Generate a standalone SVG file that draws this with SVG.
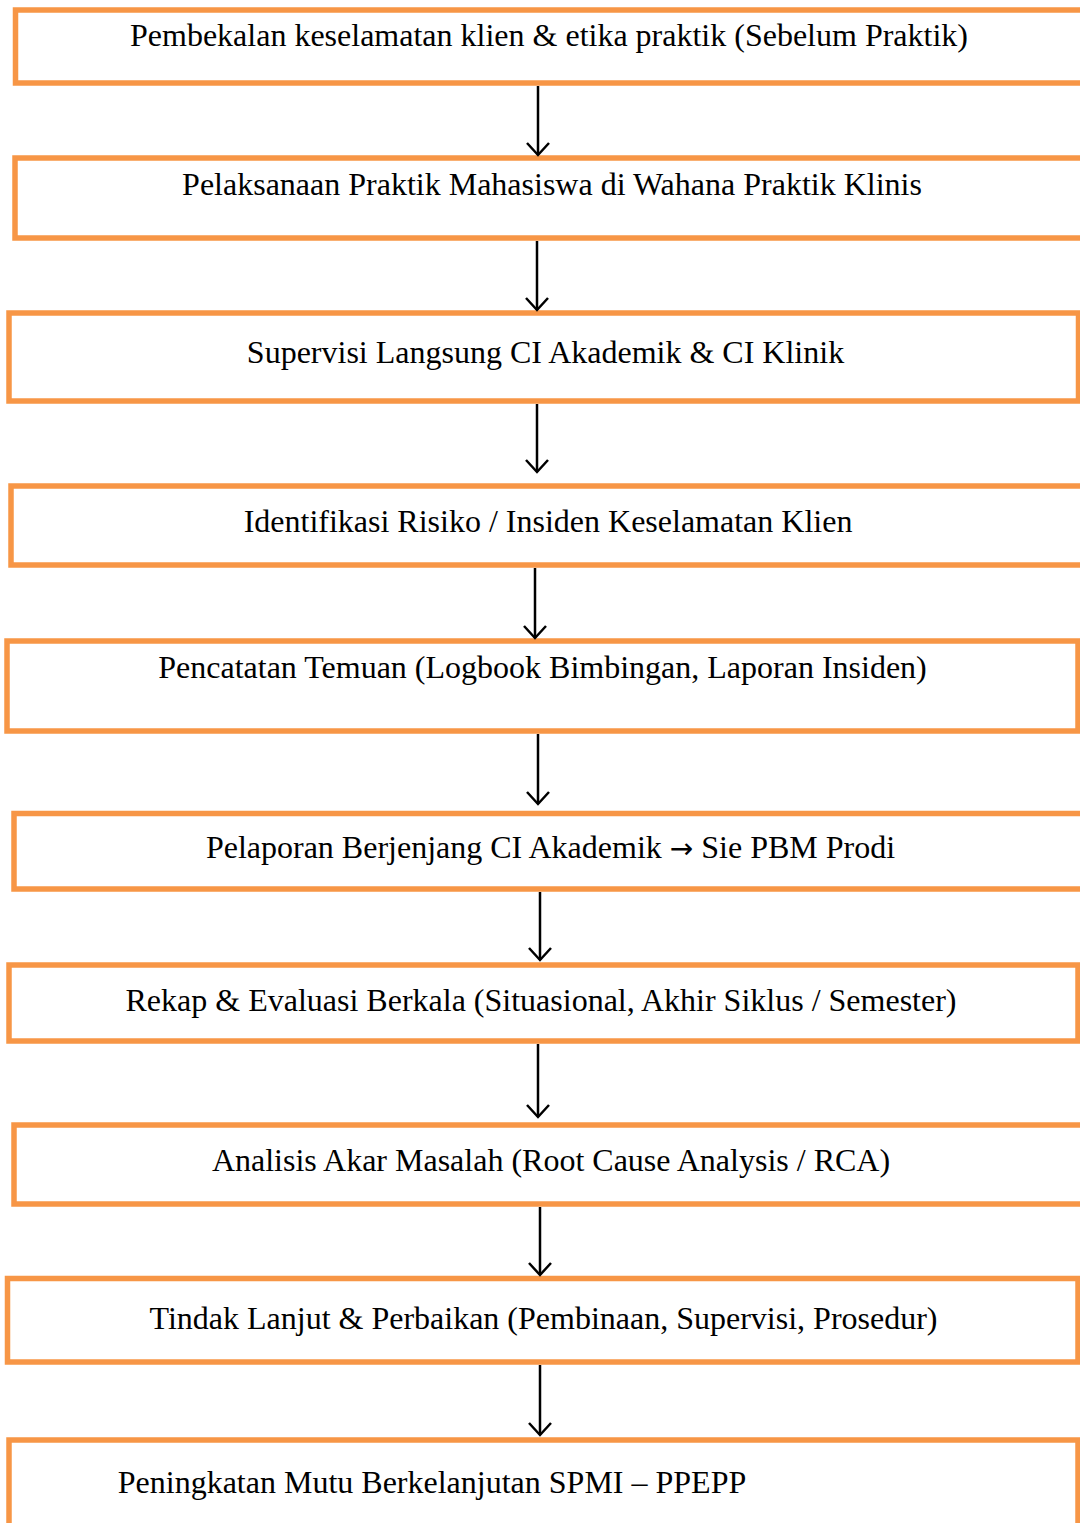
<svg xmlns="http://www.w3.org/2000/svg" width="1080" height="1523" viewBox="0 0 1080 1523">
<defs>
<style>
.box{fill:#fff;stroke:#F79646;stroke-width:5.5}
.t{font-family:"Liberation Serif","Times New Roman",serif;font-size:32px;fill:#000;text-anchor:middle}
.ar{font-family:"DejaVu Sans",sans-serif;font-size:28px}
.c line{stroke:#000;stroke-width:2.5}
.c path{fill:none;stroke:#000;stroke-width:2.5}
</style>
</defs>
<rect width="1080" height="1523" fill="#fff"/>
<g id="n1"><rect class="box" x="15.5" y="10" width="1100" height="73"/><text class="t" x="549" y="46">Pembekalan keselamatan klien &amp; etika praktik (Sebelum Praktik)</text></g>
<g id="n2"><rect class="box" x="15" y="158" width="1100" height="80"/><text class="t" x="552" y="195">Pelaksanaan Praktik Mahasiswa di Wahana Praktik Klinis</text></g>
<g id="n3"><rect class="box" x="9" y="313" width="1069.5" height="88"/><text class="t" x="545.5" y="363">Supervisi Langsung CI Akademik &amp; CI Klinik</text></g>
<g id="n4"><rect class="box" x="11" y="486" width="1100" height="79"/><text class="t" x="548" y="532">Identifikasi Risiko / Insiden Keselamatan Klien</text></g>
<g id="n5"><rect class="box" x="7" y="641" width="1071" height="90"/><text class="t" x="542.5" y="678">Pencatatan Temuan (Logbook Bimbingan, Laporan Insiden)</text></g>
<g id="n6"><rect class="box" x="14" y="813.5" width="1100" height="75.5"/><text class="t" x="550.5" y="858">Pelaporan Berjenjang CI Akademik <tspan class="ar">→</tspan> Sie PBM Prodi</text></g>
<g id="n7"><rect class="box" x="9" y="965" width="1069" height="76"/><text class="t" x="541" y="1011">Rekap &amp; Evaluasi Berkala (Situasional, Akhir Siklus / Semester)</text></g>
<g id="n8"><rect class="box" x="14" y="1125" width="1100" height="79"/><text class="t" x="551" y="1171">Analisis Akar Masalah (Root Cause Analysis / RCA)</text></g>
<g id="n9"><rect class="box" x="7.5" y="1278.5" width="1070.5" height="83.5"/><text class="t" x="543.5" y="1329">Tindak Lanjut &amp; Perbaikan (Pembinaan, Supervisi, Prosedur)</text></g>
<g id="n10"><rect class="box" x="9" y="1440" width="1069" height="120"/><text class="t" x="432" y="1493">Peningkatan Mutu Berkelanjutan SPMI – PPEPP</text></g>
<g class="c" id="connectors">
<line x1="538" y1="86" x2="538" y2="155"/><path d="M527 143 L538 155 L549 143"/>
<line x1="537" y1="241" x2="537" y2="310"/><path d="M526 298 L537 310 L548 298"/>
<line x1="537" y1="404" x2="537" y2="472"/><path d="M526 460 L537 472 L548 460"/>
<line x1="535" y1="568" x2="535" y2="638"/><path d="M524 626 L535 638 L546 626"/>
<line x1="538" y1="734" x2="538" y2="804"/><path d="M527 792 L538 804 L549 792"/>
<line x1="540" y1="892" x2="540" y2="960"/><path d="M529 948 L540 960 L551 948"/>
<line x1="538" y1="1044" x2="538" y2="1117"/><path d="M527 1105 L538 1117 L549 1105"/>
<line x1="540" y1="1207" x2="540" y2="1275"/><path d="M529 1263 L540 1275 L551 1263"/>
<line x1="540" y1="1365" x2="540" y2="1435"/><path d="M529 1423 L540 1435 L551 1423"/>
</g>
</svg>
